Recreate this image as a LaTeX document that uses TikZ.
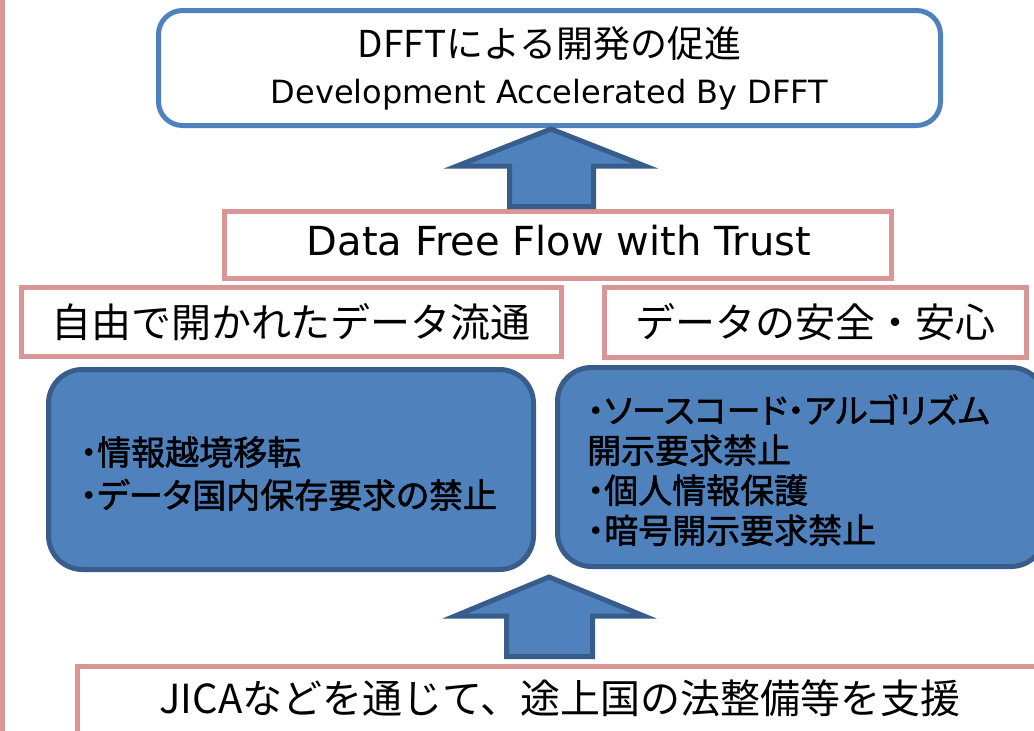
\documentclass[tikz,border=0pt]{standalone}
\usepackage{fontspec}
\setmainfont{DejaVu Sans}
\newfontfamily\jp{Noto Sans CJK JP}
\newfontfamily\jpb{Noto Sans CJK JP}[RawFeature=+palt, FakeBold=1.6]
\definecolor{bfill}{HTML}{4F81BD}
\definecolor{bdark}{HTML}{385D8A}
\definecolor{pinkc}{HTML}{D99694}
\begin{document}
\begin{tikzpicture}[x=1pt,y=-1pt,
  topbox/.style={draw=bfill, line width=5pt, rounded corners=24pt, fill=white, inner sep=0pt},
  pinkbox/.style={draw=pinkc, line width=5pt, fill=white, inner sep=0pt},
  bluebox/.style={draw=bdark, fill=bfill, line width=5pt, rounded corners=34pt, inner sep=0pt},
  blockarrow/.style={draw=bdark, fill=bfill, line width=5pt, line join=miter},
  pinktext/.style={font=\jp\fontsize{40}{48}\selectfont},
  bluetext/.style={font=\jpb\fontsize{34}{40}\selectfont, align=left, inner sep=0pt, anchor=west}
]
\useasboundingbox (0,0) rectangle (1034,731);
\clip (0,0) rectangle (1034,731);
\fill[white] (0,0) rectangle (1034,731);

% left border line
\coordinate (lt) at (2.5,-5);
\coordinate (lb) at (2.5,740);
\draw[pinkc, line width=5pt] (lt) -- (lb);

% top box
\node[topbox, minimum width=782pt, minimum height=115pt, align=center,
      font=\fontsize{32}{46}\selectfont] (top) at (549.5,68)
  {{\jp\fontsize{37}{46}\selectfont DFFTによる開発の促進}\\Development Accelerated By DFFT};

% DFFT box
\node[pinkbox, minimum width=666.5pt, minimum height=66.5pt] (dfft) at (557.75,244.75) {};
\node[font=\fontsize{40}{46}\selectfont, inner sep=0pt] (dffttext) at (559,241) {Data Free Flow with Trust};

% two pink boxes
\node[pinkbox, pinktext, minimum width=540pt, minimum height=69pt] (free) at (291,322) {自由で開かれたデータ流通};
\node[pinkbox, pinktext, minimum width=422.5pt, minimum height=70pt] (safe) at (815.25,322.5) {データの安全・安心};

% blue boxes
\node[bluebox, minimum width=485pt, minimum height=200pt] (lblue) at (291,469.5) {};
\node[bluebox, minimum width=487.5pt, minimum height=199pt] (rblue) at (801.25,467) {};
\node[bluetext, font=\jpb\fontsize{34}{43}\selectfont] (ltext) at (80,473.5)
  {・情報越境移転\\・データ国内保存要求の禁止};
\node[bluetext] (rtext) at (587,470)
  {・ソースコード・アルゴリズム\\開示要求禁止\\・個人情報保護\\・暗号開示要求禁止};

% bottom box
\node[pinkbox, minimum width=1023pt, minimum height=134pt] (jica) at (588.5,733) {};
\node[pinktext, inner sep=0pt] (jicatext) at (560,698) {JICAなどを通じて、途上国の法整備等を支援};

% block arrows
\draw[blockarrow] (551,129) -- (645,166) -- (593.5,166) -- (593.5,206.5)
  -- (509.5,206.5) -- (509.5,166) -- (457,166) -- cycle;
\draw[blockarrow] (549,577) -- (644,616) -- (592.5,616) -- (592.5,656.5)
  -- (506.5,656.5) -- (506.5,616) -- (455,616) -- cycle;
\end{tikzpicture}
\end{document}
